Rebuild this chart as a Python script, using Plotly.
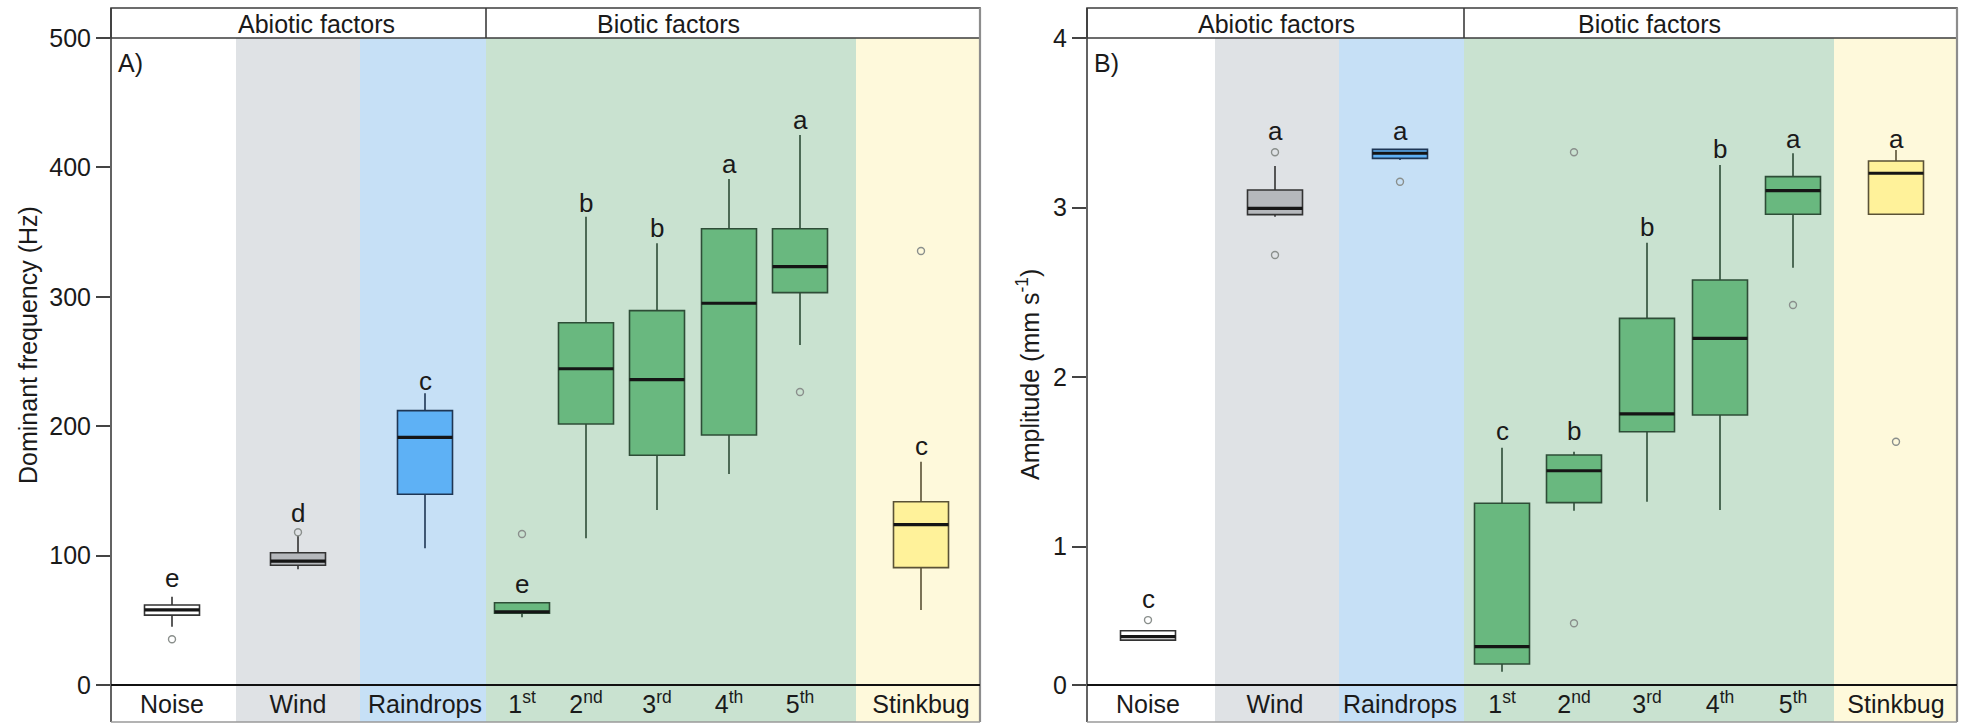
import plotly.graph_objects as go

W, H = 1966, 723

# ---------------- data ----------------
categories = ["Noise", "Wind", "Raindrops", "1<sup>st</sup>", "2<sup>nd</sup>",
              "3<sup>rd</sup>", "4<sup>th</sup>", "5<sup>th</sup>", "Stinkbug"]

# Panel A: dominant frequency (Hz)
freq_q1 = [54.0, 92.5, 147.4, 55.4, 201.7, 177.5, 193.2, 303.2, 90.7]
freq_median = [58.0, 95.8, 191.4, 56.6, 244.4, 236.0, 295.0, 323.3, 124.0]
freq_q3 = [61.8, 102.2, 212.0, 63.6, 280.0, 289.3, 352.6, 352.6, 141.6]
freq_low = [45.0, 89.4, 105.6, 52.3, 113.4, 135.2, 163.0, 262.8, 58.0]
freq_high = [68.2, 115.1, 225.4, 63.6, 361.9, 341.3, 391.0, 425.0, 172.6]
freq_outliers = [[35.3], [118.0], [], [116.7], [], [], [], [226.4], [335.4]]
freq_letters = ["e", "d", "c", "e", "b", "b", "a", "a", "c"]
freq_letter_y = [82.7, 133.2, 235.0, 78.3, 372.7, 352.9, 402.4, 436.4, 184.7]

# Panel B: amplitude (mm s-1)
amp_q1 = [0.448, 2.958, 3.290, 0.307, 1.259, 1.677, 1.776, 2.960, 2.960]
amp_median = [0.468, 2.995, 3.320, 0.409, 1.447, 1.782, 2.228, 3.099, 3.202]
amp_q3 = [0.503, 3.103, 3.343, 1.255, 1.540, 2.346, 2.572, 3.182, 3.274]
amp_low = [0.448, 2.946, 3.280, 0.261, 1.211, 1.264, 1.215, 2.645, 2.960]
amp_high = [0.503, 3.245, 3.343, 1.583, 1.559, 2.792, 3.251, 3.320, 3.339]
amp_outliers = [[0.566], [3.326, 2.720], [3.152], [], [3.326, 0.547], [], [], [2.425], [1.618]]
amp_letters = ["c", "a", "a", "c", "b", "b", "b", "a", "a"]
amp_letter_y = [0.689, 3.451, 3.451, 1.681, 1.681, 2.885, 3.343, 3.402, 3.402]

freq_ticks = [0, 100, 200, 300, 400, 500]
amp_tickvals = [0.183, 1, 2, 3, 4]
amp_ticktext = ["0", "1", "2", "3", "4"]

group_names = ["Abiotic factors", "Biotic factors"]

# ---------------- layout / style ----------------
pos_a = [61, 187, 314, 411, 475, 546, 618, 689, 810]
pos_b = [61, 188, 313, 415, 487, 560, 633, 706, 809]
bands_a = [0, 125, 249, 375, 745, 869]
bands_b = [0, 128, 252, 377, 747, 870]
band_colors = ["#ffffff", "#dfe2e5", "#c6e0f6", "#c9e2d0", "#fef9db"]
fill = ["#ffffff", "#b5b8bc", "#5eb1f5", "#69b87f", "#69b87f", "#69b87f",
        "#69b87f", "#69b87f", "#fff29a"]
edge = ["#333333", "#333333", "#1e3654", "#2e4d37", "#2e4d37", "#2e4d37",
        "#2e4d37", "#2e4d37", "#5a5236"]
BOXW = 55
FONT = "Liberation Sans, Arial, sans-serif"
TXT = "#1a1a1a"


def py(px):
    return 1 - px / H


Y_TOP_HEAD = py(8)
Y_PLOT_TOP = py(38)
Y_AXIS = py(685)
Y_BOTTOM = py(722)

fig = go.Figure()
shapes = []
annotations = []

panels = [
    dict(xa="x", ya="y", pos=pos_a, bands=bands_a, q1=freq_q1, med=freq_median,
         q3=freq_q3, lo=freq_low, hi=freq_high, out=freq_outliers,
         let=freq_letters, lety=freq_letter_y, tag="A)", head_x=[205, 557],
         dom=[111 / W, 980 / W]),
    dict(xa="x2", ya="y2", pos=pos_b, bands=bands_b, q1=amp_q1, med=amp_median,
         q3=amp_q3, lo=amp_low, hi=amp_high, out=amp_outliers,
         let=amp_letters, lety=amp_letter_y, tag="B)", head_x=[189, 562],
         dom=[1087 / W, 1957 / W]),
]

for p in panels:
    xa, ya = p["xa"], p["ya"]
    for i in range(9):
        x = p["pos"][i]
        fig.add_trace(go.Box(
            x=[x], q1=[p["q1"][i]], median=[p["med"][i]], q3=[p["q3"][i]],
            lowerfence=[p["lo"][i]], upperfence=[p["hi"][i]],
            width=BOXW, whiskerwidth=0, boxpoints=False,
            fillcolor=fill[i], line=dict(color=edge[i], width=1.6),
            xaxis=xa, yaxis=ya, showlegend=False, hoverinfo="skip"))
        fig.add_trace(go.Scatter(
            x=[x - BOXW / 2, x + BOXW / 2], y=[p["med"][i], p["med"][i]],
            mode="lines", line=dict(color="#151515", width=3.2),
            xaxis=xa, yaxis=ya, showlegend=False, hoverinfo="skip"))
        if p["out"][i]:
            fig.add_trace(go.Scatter(
                x=[x] * len(p["out"][i]), y=p["out"][i], mode="markers",
                marker=dict(symbol="circle-open", size=7, color="#8a8f8c",
                            line=dict(color="#8a8f8c", width=1.4)),
                xaxis=xa, yaxis=ya, showlegend=False, hoverinfo="skip"))
        annotations.append(dict(
            x=x, y=p["lety"][i], xref=xa, yref=ya, text=p["let"][i],
            showarrow=False, xanchor="center", yanchor="middle",
            font=dict(family=FONT, size=26, color=TXT)))

    b = p["bands"]
    for k in range(5):
        shapes.append(dict(type="rect", xref=xa, yref="paper", x0=b[k], x1=b[k + 1],
                           y0=Y_BOTTOM, y1=Y_PLOT_TOP, fillcolor=band_colors[k],
                           line=dict(width=0), layer="below"))
    dref = xa + " domain"
    # header box
    shapes.append(dict(type="rect", xref=dref, yref="paper", x0=0, x1=1,
                       y0=Y_PLOT_TOP, y1=Y_TOP_HEAD, fillcolor="white",
                       line=dict(color="#3c3c3c", width=1.6)))
    shapes.append(dict(type="line", xref=xa, yref="paper", x0=b[3], x1=b[3],
                       y0=Y_PLOT_TOP, y1=Y_TOP_HEAD,
                       line=dict(color="#3c3c3c", width=1.6)))
    # left axis line, right border, bottom border, x axis line
    shapes.append(dict(type="line", xref=dref, yref="paper", x0=0, x1=0,
                       y0=Y_BOTTOM, y1=Y_TOP_HEAD, line=dict(color="#3c3c3c", width=1.6)))
    shapes.append(dict(type="line", xref=dref, yref="paper", x0=1, x1=1,
                       y0=Y_BOTTOM, y1=Y_TOP_HEAD, line=dict(color="#8d8d8d", width=2.2)))
    shapes.append(dict(type="line", xref=dref, yref="paper", x0=0, x1=1,
                       y0=Y_BOTTOM, y1=Y_BOTTOM, line=dict(color="#9a9a9a", width=1.5)))
    shapes.append(dict(type="line", xref=dref, yref="paper", x0=0, x1=1,
                       y0=Y_AXIS, y1=Y_AXIS, line=dict(color="#111111", width=2.2)))
    for g in range(2):
        annotations.append(dict(x=p["head_x"][g], y=py(24), xref=xa, yref="paper",
                                text=group_names[g], showarrow=False,
                                xanchor="center", yanchor="middle",
                                font=dict(family=FONT, size=25, color=TXT)))
    annotations.append(dict(x=0.006, y=py(63), xref=dref, yref="paper", text=p["tag"],
                            showarrow=False, xanchor="left", yanchor="middle",
                            font=dict(family=FONT, size=25, color=TXT)))

annotations.append(dict(x=28 / W, y=py(345), xref="paper", yref="paper",
                        text="Dominant frequency (Hz)", textangle=-90, showarrow=False,
                        xanchor="center", yanchor="middle",
                        font=dict(family=FONT, size=25, color=TXT)))
annotations.append(dict(x=1028 / W, y=py(375), xref="paper", yref="paper",
                        text="Amplitude (mm s<sup>-1</sup>)", textangle=-90,
                        xanchor="center", yanchor="middle",
                        showarrow=False, font=dict(family=FONT, size=25, color=TXT)))

common_x = dict(showgrid=False, zeroline=False, showline=False, ticks="",
                automargin=False, anchor="free", position=py(687),
                tickfont=dict(family=FONT, size=25, color=TXT), fixedrange=True)
common_y = dict(showgrid=False, zeroline=False, showline=False, ticks="outside",
                ticklen=14, tickwidth=1.5, tickcolor="#444444", automargin=False,
                tickfont=dict(family=FONT, size=25, color=TXT),
                domain=[Y_AXIS, Y_PLOT_TOP], fixedrange=True)

fig.update_layout(
    width=W, height=H, margin=dict(l=0, r=0, t=0, b=0, pad=0, autoexpand=False),
    paper_bgcolor="white", plot_bgcolor="rgba(0,0,0,0)",
    showlegend=False, hovermode=False, boxmode="overlay",
    xaxis=dict(common_x, domain=panels[0]["dom"], range=[0, 869],
               tickvals=pos_a, ticktext=categories),
    yaxis=dict(common_y, range=[0, 500], tickvals=freq_ticks, anchor="x"),
    xaxis2=dict(common_x, domain=panels[1]["dom"], range=[0, 870],
                tickvals=pos_b, ticktext=categories),
    yaxis2=dict(common_y, range=[0.183, 4.0], tickvals=amp_tickvals,
                ticktext=amp_ticktext, anchor="x2"),
    shapes=shapes, annotations=annotations,
)

fig.write_html("out.html")
